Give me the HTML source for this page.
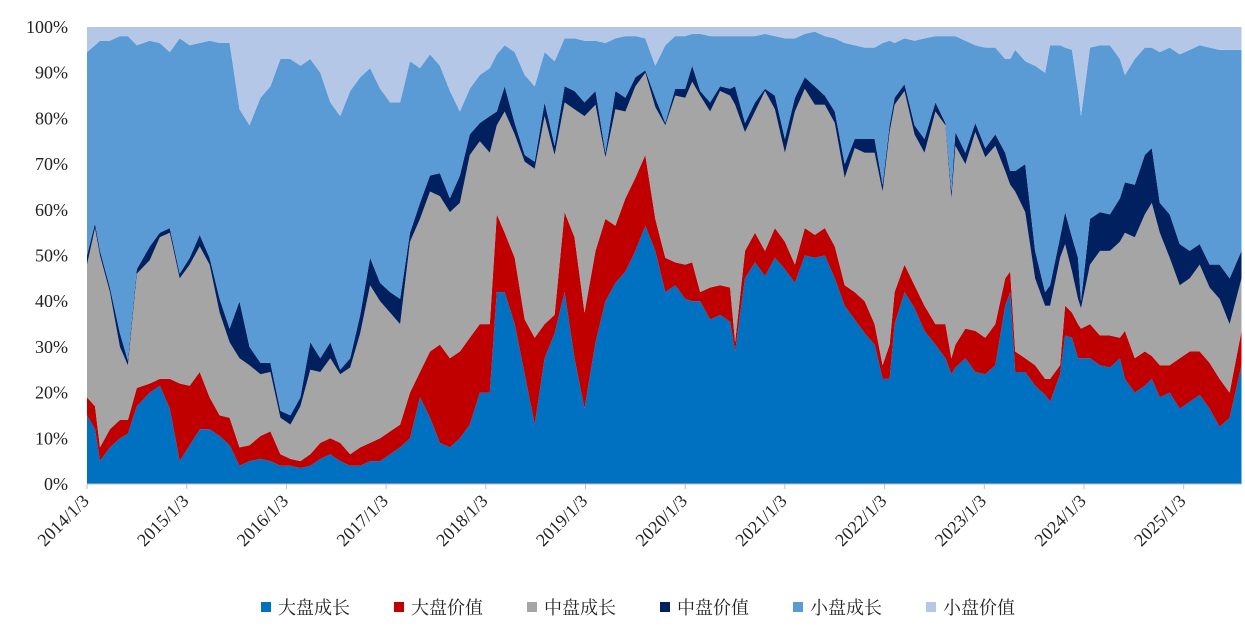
<!DOCTYPE html>
<html><head><meta charset="utf-8">
<style>
body{margin:0;background:#fff;width:1245px;height:630px;overflow:hidden}
svg{display:block}
.tk{font-family:"Liberation Serif","Noto Serif CJK SC",serif;font-size:18px;fill:#222}
.lg{font-family:"Liberation Serif","Noto Serif CJK SC",serif;font-size:18px;fill:#222}
</style></head>
<body>
<svg id="chart" width="1245" height="630"></svg>
<script>
const dates=[0.00,0.08,0.13,0.23,0.33,0.41,0.50,0.63,0.73,0.83,0.93,1.03,1.13,1.23,1.33,1.43,1.53,1.63,1.74,1.84,1.94,2.04,2.14,2.24,2.34,2.44,2.54,2.64,2.74,2.84,2.94,3.04,3.14,3.24,3.34,3.44,3.54,3.64,3.74,3.84,3.94,4.04,4.11,4.19,4.29,4.39,4.49,4.59,4.69,4.79,4.89,4.99,5.10,5.20,5.30,5.40,5.50,5.60,5.70,5.80,5.90,6.00,6.07,6.15,6.25,6.35,6.45,6.50,6.60,6.70,6.80,6.90,7.00,7.10,7.20,7.30,7.40,7.50,7.60,7.70,7.80,7.90,7.98,8.05,8.10,8.20,8.30,8.40,8.51,8.61,8.67,8.71,8.81,8.91,9.01,9.11,9.21,9.26,9.31,9.41,9.51,9.61,9.66,9.76,9.81,9.88,9.94,9.97,10.06,10.16,10.26,10.36,10.41,10.51,10.61,10.68,10.76,10.86,10.96,11.06,11.16,11.26,11.36,11.46,11.58];
const largeGrowth=[15,12,5,8,10,11,17,20,21.5,16.5,5,8.5,12,12,10.5,8.5,4,5,5.5,5,4,4,3.5,4,5.5,6.5,5,4,4,5,5,6.5,8,10,19,14.5,9,8,10,13,20,20,42,42,35,24,13,27.5,33,42,27.5,16.5,31,40,44,46.5,51,56.5,51,42,43.5,40.5,40,40,36,37,35.5,29,45,48.5,45.5,49.5,47,44,50,49.5,50,45,39,36,33,30.5,23,23,35,42,38.5,33.5,30.5,27.5,24,25.5,27.5,24.5,24,26,39,42,24.5,24.5,21.5,19.5,18,24,32.5,32,27.5,27.5,27.5,26,25.5,27.5,23,20,21.5,23,19,20,16.5,18,19.5,16.5,12.5,14.5,26];
const largeValue=[4,5,3,4,4,3,4,2,1.5,6.5,17,13,12.5,7,4.5,6,4,3.5,5,6.5,2.5,1.5,1.5,2.5,3.5,3.5,4,2.5,4,4,5,5,5,10,5.5,14.5,21.5,19.5,19,19,15,15,17,13,14.5,12,19,7.5,4,17.5,26.5,21,20,18,12.5,16,16,15.5,7,7.5,5,7.5,8.5,2,7,6.5,7.5,2,6,6.5,5.5,6.5,6,4,6,5,6,7,4.5,6,7,4.5,3,7.5,7,6,5,5.5,4.5,7.5,3.5,5,6.5,9,8,9,6,4.5,4.5,3,4.5,3.5,5,2,6.5,5.5,7.5,6.5,7.5,6.5,7,4.5,10.5,7.5,7.5,5,7,6,11,11,9.5,10,10.5,5.5,7.5];
const midGrowth=[29,39,42,30,16,12,25,27,31,32,23,26.5,27.5,29,22.5,16.5,19.5,17.5,13.5,13,8,7.5,12,18.5,15.5,17.5,15,19,25,34.5,30,26,22,33,33.5,35,32.5,32,32.5,40,40,37.5,19.5,26.5,27,34.5,37,45.5,35,24,28,43,32,13.5,25.5,19,20,18,24.5,29,36.5,36.5,39.5,43,38.5,42.5,42,52,26,26.5,35,26,19.5,33.5,30.5,28.5,27,27,23.5,31.5,32.5,37.5,38,46.5,41,38,33,33.5,46.5,43.5,35,43.5,36,43.5,39.5,39,23.5,19,35,32,19,16,16,23.5,13.5,9,5.5,4.5,13,18.5,18.5,21,21.5,26.5,30,33.5,29,23.5,16,16,19,16.5,17.5,15,11.5];
const midValue=[2,1,1,1,3,1,1,3,1,1,1,1.5,2.5,1.5,3,3,12.5,4,2.5,2,1.5,2,2,6,3,3.5,1,2,4,6,4,4.5,5.5,2,3.5,3.5,5,3,6,4.5,4,8,3,5.5,2.5,1.5,1.5,3,2,3.5,4,3,3,1,4,3,2,0.5,2,0.5,1.5,2,3.5,1,2,1,1.5,4,2,2,0.5,3,3,3,2.5,4,2,2.5,3,2,3,3,1.5,1.5,1.5,1.5,2,3,2,0.5,1.5,3,2.5,2,2,2.5,4,3,4.5,10.5,6,3,4.5,4.5,7,7.5,9,1.5,10,8.5,8,9.5,11,11.5,13,12,6.5,9.5,9,6,4.5,5,7.5,10,6];
const smallGrowth=[44.5,39,46,54,65,71,49,45,41.5,38.5,51.5,46.5,42,47.5,56,62.5,42,48.5,58,60.5,77,78,72.5,62,62.5,52.5,55.5,58.5,52,41.5,42.5,41.5,43,37.5,29.5,26.5,23.5,23.5,14,10,10.5,10.5,12.5,9,15.5,17.5,16.5,11,18.5,10.5,11.5,13.5,11,24,11.5,13.5,9,7,7,17,11.5,11.5,7,12.5,14.5,11,11.5,11,19,14.5,12,13,22,13,9.5,12,13,16,26.5,20.5,20,20,31,18.5,12,10,18.5,22,14.5,19,34,21,24.5,17,22,19,20.5,24.5,26.5,22.5,40.5,48,52.5,42,36,41,36.5,40.5,37.5,36.5,37,30.5,23.5,27.5,23.5,22,33,36.5,41.5,44,43.5,47.5,47,50,44];
const smallValue=[5.5,4,3,3,2,2,4,3,3.5,5.5,2.5,4,3.5,3,3.5,3.5,18,21.5,15.5,13,7,7,8.5,7,10,16.5,19.5,14,11,9,13.5,16.5,16.5,7.5,9,6,8.5,14,18.5,13.5,10.5,9,6,4,5.5,10.5,13,5.5,7.5,2.5,2.5,3,3,3.5,2.5,2,2,2.5,8.5,4,2,2,1.5,1.5,2,2,2,2,2,2,1.5,2,2.5,2.5,1.5,1,2,2.5,3.5,4,4.5,4.5,3.5,3,3.5,2.5,3,2.5,2,2,2,2,3,4,4.5,4.5,7,7,5,7.5,8.5,10,4,4,4.5,5,14,19.5,4.5,4,4,7,10.5,7,4.5,4.5,5.5,4.5,6,5,4,4.5,5,5,5];
const seriesNames=["大盘成长","大盘价值","中盘成长","中盘价值","小盘成长","小盘价值"];
const yTicks=[0,10,20,30,40,50,60,70,80,90,100];
const xTickYears=[0,1,2,3,4,5,6,7,8,9,10,11];
const xTickLabels=["2014/1/3","2015/1/3","2016/1/3","2017/1/3","2018/1/3","2019/1/3","2020/1/3","2021/1/3","2022/1/3","2023/1/3","2024/1/3","2025/1/3"];

const colors=["#0070C0","#C00000","#A5A5A5","#002060","#5B9BD5","#B4C7E7"];
const L=87,R=1242,T=27,B=484;
const xS=t=>L+t*99.7;
const yS=v=>B-(B-T)*v/100;
const NS="http://www.w3.org/2000/svg";
const svg=document.getElementById('chart');
function mk(tag,attrs){const e=document.createElementNS(NS,tag);for(const k in attrs)e.setAttribute(k,attrs[k]);return e;}
const all=[largeGrowth,largeValue,midGrowth,midValue,smallGrowth,smallValue];
const keys=["large-growth","large-value","mid-growth","mid-value","small-growth","small-value"];
let base=dates.map(()=>0);
all.forEach((s,si)=>{
  const top=base.map((b,i)=>si===all.length-1?100:b+s[i]);
  let pts=dates.map((d,i)=>xS(d).toFixed(1)+","+yS(top[i]).toFixed(1));
  for(let i=dates.length-1;i>=0;i--)pts.push(xS(dates[i]).toFixed(1)+","+yS(base[i]).toFixed(1));
  const p=mk('polygon',{points:pts.join(' '),fill:colors[si]});
  
  
  svg.appendChild(p);
  base=top;
});
const ax=mk('line',{x1:L,x2:R,y1:B,y2:B,stroke:'#bfbfbf','stroke-width':1});


svg.appendChild(ax);
yTicks.forEach(v=>{
  const t=mk('text',{x:68,y:yS(v)+6,'text-anchor':'end',class:'tk'});
  t.textContent=v+'%';
  
  
  svg.appendChild(t);
});
xTickYears.forEach((yv,i)=>{
  const x=xS(yv);
  const tk=mk('line',{x1:x,x2:x,y1:B,y2:B+5,stroke:'#bfbfbf'});
  
  
  svg.appendChild(tk);
  const t=mk('text',{x:0,y:0,'text-anchor':'end',class:'tk',transform:`translate(${x+3},${B+18}) rotate(-45)`});
  t.textContent=xTickLabels[i];
  
  
  svg.appendChild(t);
});
const lgX=[261,394,527,660,793,926];
seriesNames.forEach((n,i)=>{
  const g=mk('g',{});
  
  
  g.appendChild(mk('rect',{x:lgX[i],y:602,width:10,height:10,fill:colors[i]}));
  const t=mk('text',{x:lgX[i]+17,y:614,class:'lg'});
  t.textContent=n;
  g.appendChild(t);
  svg.appendChild(g);
});
</script>
</body></html>
